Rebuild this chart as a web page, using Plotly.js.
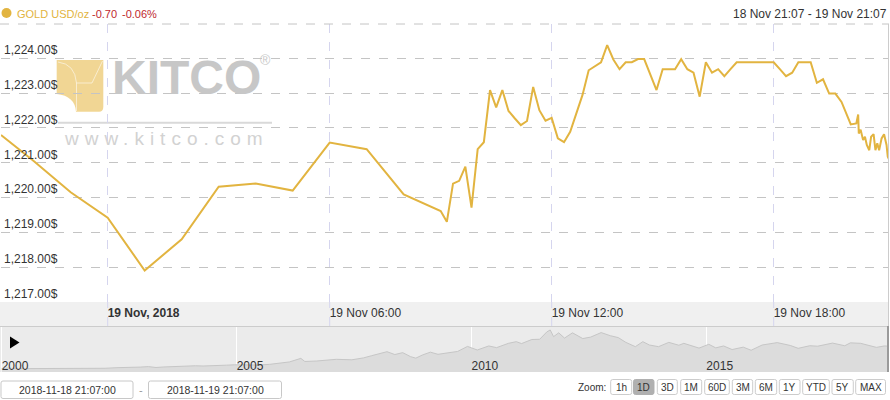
<!DOCTYPE html>
<html>
<head>
<meta charset="utf-8">
<script src="https://cdn.plot.ly/plotly-3.0.1.min.js"></script>
<style>
  html, body { margin: 0; padding: 0; background: #fff; }
  #chart { width: 890px; height: 400px; }
</style>
</head>
<body>
<div id="chart"></div>
<script>
// ---------------- DATA ----------------
const goldTimes = [
  '2018-11-18 21:07', '2018-11-18 22:00', '2018-11-18 23:00',
  '2018-11-19 00:00', '2018-11-19 01:00', '2018-11-19 02:00', '2018-11-19 03:00',
  '2018-11-19 04:00', '2018-11-19 05:00', '2018-11-19 06:00', '2018-11-19 07:00',
  '2018-11-19 08:00', '2018-11-19 09:00', '2018-11-19 09:10', '2018-11-19 09:20',
  '2018-11-19 09:30', '2018-11-19 09:40', '2018-11-19 09:50', '2018-11-19 10:00',
  '2018-11-19 10:10', '2018-11-19 10:20', '2018-11-19 10:30', '2018-11-19 10:40',
  '2018-11-19 10:50', '2018-11-19 11:00', '2018-11-19 11:10', '2018-11-19 11:20',
  '2018-11-19 11:30', '2018-11-19 11:40', '2018-11-19 11:50', '2018-11-19 12:00',
  '2018-11-19 12:10', '2018-11-19 12:20', '2018-11-19 12:30', '2018-11-19 12:40',
  '2018-11-19 12:50', '2018-11-19 13:00', '2018-11-19 13:10', '2018-11-19 13:20',
  '2018-11-19 13:30', '2018-11-19 13:40', '2018-11-19 13:50', '2018-11-19 14:00',
  '2018-11-19 14:10', '2018-11-19 14:20', '2018-11-19 14:30', '2018-11-19 14:40',
  '2018-11-19 14:50', '2018-11-19 15:00', '2018-11-19 15:10', '2018-11-19 15:20',
  '2018-11-19 15:30', '2018-11-19 15:40', '2018-11-19 15:50', '2018-11-19 16:00',
  '2018-11-19 16:10', '2018-11-19 16:20', '2018-11-19 16:30', '2018-11-19 16:40',
  '2018-11-19 16:50', '2018-11-19 17:00', '2018-11-19 17:30', '2018-11-19 18:00',
  '2018-11-19 18:10', '2018-11-19 18:20', '2018-11-19 18:30', '2018-11-19 18:40',
  '2018-11-19 18:50', '2018-11-19 19:00', '2018-11-19 19:10', '2018-11-19 19:20',
  '2018-11-19 19:30', '2018-11-19 19:40', '2018-11-19 19:50', '2018-11-19 20:00',
  '2018-11-19 20:05', '2018-11-19 20:14', '2018-11-19 20:17', '2018-11-19 20:18',
  '2018-11-19 20:21', '2018-11-19 20:25', '2018-11-19 20:28', '2018-11-19 20:31',
  '2018-11-19 20:35', '2018-11-19 20:38', '2018-11-19 20:42', '2018-11-19 20:45',
  '2018-11-19 20:48', '2018-11-19 20:51', '2018-11-19 20:55', '2018-11-19 20:59',
  '2018-11-19 21:03', '2018-11-19 21:05', '2018-11-19 21:07'
];
const goldPrices = [
  1221.80, 1221.05, 1220.15,
  1219.42, 1217.90, 1218.80, 1220.31,
  1220.40, 1220.20, 1221.58, 1221.39,
  1220.09, 1219.61, 1219.30, 1220.40,
  1220.48, 1220.89, 1219.71, 1221.39,
  1221.59, 1223.09, 1222.59, 1223.09,
  1222.49, 1222.28, 1222.08, 1222.20,
  1223.18, 1222.51, 1222.21, 1222.29,
  1221.70, 1221.59, 1221.89, 1222.42,
  1222.95, 1223.66, 1223.78, 1223.89,
  1224.38, 1223.97, 1223.69, 1223.89,
  1223.89, 1223.98, 1223.98, 1223.55,
  1223.09, 1223.69, 1223.69, 1223.69,
  1223.98, 1223.69, 1223.59, 1222.90,
  1223.89, 1223.59, 1223.69, 1223.49,
  1223.69, 1223.89, 1223.89, 1223.89,
  1223.69, 1223.49, 1223.59, 1223.89,
  1223.89, 1223.89, 1223.30, 1223.40,
  1222.99, 1222.99, 1222.75, 1222.32,
  1222.10, 1222.13, 1222.39, 1221.84,
  1221.95, 1221.65, 1221.75, 1221.51,
  1221.36, 1221.75, 1221.82, 1221.36,
  1221.56, 1221.36, 1221.70, 1221.82,
  1221.51, 1221.17, 1221.10
];

// navigator: long-term history (approximate)
const navDates = [
  '2000-01-01','2000-02-15','2000-04-15','2000-07-15','2000-10-15','2001-01-15','2001-04-15',
  '2001-06-15','2001-09-20','2001-12-15','2002-03-15','2002-06-15','2002-09-15','2002-12-15',
  '2003-02-15','2003-04-15','2003-06-15','2003-09-15','2003-12-15','2004-02-15','2004-04-15',
  '2004-07-15','2004-10-15','2004-12-15','2005-03-15','2005-06-15','2005-09-15','2005-12-15',
  '2006-02-15','2006-05-15','2006-06-15','2006-09-15','2006-12-15','2007-02-15','2007-06-15',
  '2007-09-15','2007-11-15','2008-01-15','2008-03-15','2008-05-15','2008-07-15','2008-09-15',
  '2008-10-25','2008-12-15','2009-02-15','2009-04-15','2009-06-15','2009-09-15','2009-12-01',
  '2010-02-15','2010-05-15','2010-07-15','2010-10-15','2010-12-15','2011-01-25','2011-04-15',
  '2011-06-15','2011-08-10','2011-09-05','2011-10-01','2011-11-10','2011-12-25','2012-02-25',
  '2012-05-15','2012-07-15','2012-10-05','2012-12-15','2013-02-15','2013-04-15','2013-06-28',
  '2013-08-25','2013-10-15','2013-12-25','2014-03-15','2014-06-01','2014-07-10','2014-11-05',
  '2015-01-20','2015-03-15','2015-05-15','2015-07-20','2015-10-15','2015-12-15','2016-03-10',
  '2016-07-05','2016-10-15','2016-12-15','2017-03-15','2017-05-15','2017-09-08','2017-12-12',
  '2018-01-25','2018-04-15','2018-06-15','2018-08-15','2018-10-15','2018-11-19'
];
const navPrices = [
  288, 305, 280, 282, 270, 265, 258,
  270, 290, 276, 295, 320, 318, 345,
  365, 328, 350, 380, 410, 400, 390,
  395, 425, 440, 430, 430, 460, 510,
  560, 710, 580, 600, 630, 670, 650,
  730, 820, 900, 990, 870, 950, 780,
  720, 850, 970, 880, 940, 1000, 1210,
  1060, 1230, 1160, 1340, 1410, 1330, 1500,
  1510, 1820, 1900, 1620, 1780, 1560, 1780,
  1540, 1600, 1790, 1660, 1580, 1380, 1200,
  1410, 1270, 1200, 1380, 1260, 1340, 1140,
  1300, 1150, 1230, 1080, 1180, 1050, 1270,
  1370, 1250, 1130, 1240, 1220, 1350, 1240,
  1360, 1340, 1250, 1170, 1230, 1222
];

const yTicks = [1217, 1218, 1219, 1220, 1221, 1222, 1223, 1224];
const yTickText = yTicks.map(v => v.toLocaleString('en-US', { minimumFractionDigits: 2, maximumFractionDigits: 2 }) + '$');
const xTickVals = ['2018-11-19 00:00', '2018-11-19 06:00', '2018-11-19 12:00', '2018-11-19 18:00'];
const xTickText = ['<b>19 Nov, 2018</b>', '19 Nov 06:00', '19 Nov 12:00', '19 Nov 18:00'];
const navTickVals = ['2000-01-01', '2005-01-01', '2010-01-01', '2015-01-01'];
const navTickText = ['2000', '2005', '2010', '2015'];
const zoomLabels = ['1h', '1D', '3D', '1M', '60D', '3M', '6M', '1Y', 'YTD', '5Y', 'MAX'];
const rangeFrom = '2018-11-18 21:07:00';
const rangeTo = '2018-11-19 21:07:00';

// ---------------- LAYOUT HELPERS ----------------
const W = 890, H = 400;
const X = px => px / W;
const Y = py => 1 - py / H;
const FONT = 'Liberation Sans, Arial, Helvetica, sans-serif';
const GOLD = '#e2b440';

function pathPx(points, close) {
  return points.map((p, i) => (i === 0 ? 'M' : 'L') + X(p[0]).toFixed(5) + ',' + Y(p[1]).toFixed(5)).join(' ') + (close ? ' Z' : '');
}
function roundRect(x0, y0, x1, y1, r) {
  const f = (x, y) => X(x).toFixed(5) + ',' + Y(y).toFixed(5);
  return 'M' + f(x0 + r, y0) + ' L' + f(x1 - r, y0) + ' Q' + f(x1, y0) + ' ' + f(x1, y0 + r) +
    ' L' + f(x1, y1 - r) + ' Q' + f(x1, y1) + ' ' + f(x1 - r, y1) +
    ' L' + f(x0 + r, y1) + ' Q' + f(x0, y1) + ' ' + f(x0, y1 - r) +
    ' L' + f(x0, y0 + r) + ' Q' + f(x0, y0) + ' ' + f(x0 + r, y0) + ' Z';
}
function line(x0, y0, x1, y1, color, width, dash) {
  return { type: 'line', xref: 'paper', yref: 'paper', x0: X(x0), y0: Y(y0), x1: X(x1), y1: Y(y1),
    line: { color: color, width: width || 1, dash: dash || 'solid' } };
}
function ann(text, px, py, opts) {
  return Object.assign({ text: text, xref: 'paper', yref: 'paper', x: X(px), y: Y(py),
    showarrow: false, xanchor: 'left', yanchor: 'middle',
    font: { family: FONT, size: 12, color: '#333' } }, opts || {});
}

// ---------------- TRACES ----------------
const traces = [
  { type: 'scatter', mode: 'lines', x: goldTimes, y: goldPrices, xaxis: 'x', yaxis: 'y',
    line: { color: GOLD, width: 2 }, hoverinfo: 'skip' },
  { type: 'scatter', mode: 'lines', x: navDates, y: navPrices, xaxis: 'x2', yaxis: 'y2',
    fill: 'tozeroy', fillcolor: '#dcdcdc', line: { color: '#c6c6c6', width: 1 }, hoverinfo: 'skip' }
];

// ---------------- SHAPES ----------------
const shapes = [];
shapes.push({ type: 'rect', xref: 'paper', yref: 'paper', x0: 0, x1: X(889), y0: Y(326), y1: Y(302),
  fillcolor: '#f0f0f0', line: { width: 0 }, layer: 'below' });
shapes.push({ type: 'rect', xref: 'paper', yref: 'paper', x0: 0, x1: X(889), y0: Y(372), y1: Y(326),
  fillcolor: '#ebebeb', line: { width: 0 }, layer: 'below' });
shapes.push(line(0, 24, 889, 24, '#c4c4c4', 1, 'dash'));
shapes.push(line(0, 326.5, 889, 326.5, '#cccccc', 1));
shapes.push(line(888.5, 24, 888.5, 326, '#cccccc', 1));
xTickVals.forEach(v => shapes.push({ type: 'line', xref: 'x', yref: 'paper', x0: v, x1: v, y0: Y(326), y1: Y(302),
  line: { color: '#d5d5ee', width: 1, dash: 'dash' } }));
shapes.push(line(888, 326, 888, 372, '#9a9a9a', 2));
shapes.push({ type: 'path', xref: 'paper', yref: 'paper', path: pathPx([[10, 336.5], [19.5, 342.5], [10, 348.5]], true),
  fillcolor: '#000', line: { width: 0 } });
shapes.push({ type: 'circle', xref: 'paper', yref: 'paper', x0: X(1.5), x1: X(11.5), y0: Y(18), y1: Y(8),
  fillcolor: GOLD, line: { width: 0 } });

// watermark logo icon
(function () {
  const f = (x, y) => X(x).toFixed(5) + ',' + Y(y).toFixed(5);
  const outer = 'M' + f(56.7, 60) + ' L' + f(103.3, 60) + ' L' + f(103.3, 107) + ' Q' + f(103.3, 111.7) + ' ' + f(99, 111.7) +
    ' L' + f(76, 111.7) + ' Q' + f(75, 96) + ' ' + f(56.7, 94) + ' L' + f(56.7, 60) + ' Z';
  shapes.push({ type: 'path', xref: 'paper', yref: 'paper', path: outer, fillcolor: 'rgba(236,200,112,0.75)',
    line: { width: 0 }, layer: 'below' });
  const inner = 'M' + f(58, 62) + ' Q' + f(75, 64) + ' ' + f(76.5, 83) + ' L' + f(76.5, 111) +
    ' M' + f(76.5, 83) + ' L' + f(92, 83) + ' L' + f(102.5, 61);
  shapes.push({ type: 'path', xref: 'paper', yref: 'paper', path: inner,
    line: { color: 'rgba(255,255,255,0.55)', width: 1 }, layer: 'below' });
  shapes.push(Object.assign(line(58, 122.7, 272, 122.7, '#d9d9d9', 2), { layer: 'below' }));
})();

shapes.push({ type: 'path', xref: 'paper', yref: 'paper', path: roundRect(1, 381, 133, 398.5, 2),
  fillcolor: '#fff', line: { color: '#c8c8c8', width: 1 } });
shapes.push({ type: 'path', xref: 'paper', yref: 'paper', path: roundRect(148.5, 381, 281.5, 398.5, 2),
  fillcolor: '#fff', line: { color: '#c8c8c8', width: 1 } });

const btnPos = [[610.7, 631.7], [633.5, 654], [657.3, 677.3], [680.7, 701.7], [704.7, 729.3], [732.3, 752.7],
  [755.3, 776.7], [779.3, 800], [802.7, 829.3], [832, 853.3], [855.7, 885.5]];
const annotations = [];
zoomLabels.forEach((lab, i) => {
  const p = btnPos[i];
  const active = lab === '1D';
  shapes.push({ type: 'path', xref: 'paper', yref: 'paper', path: roundRect(p[0], 379.5, p[1], 394.5, 2),
    fillcolor: active ? '#b0b0b0' : '#ffffff', line: { color: active ? '#b0b0b0' : '#cccccc', width: 1 } });
  annotations.push(ann(lab, (p[0] + p[1]) / 2, 387, { xanchor: 'center',
    font: { family: FONT, size: 10, color: '#333' } }));
});
annotations.push(ann('Zoom:', 607.5, 387, { xanchor: 'right', font: { family: FONT, size: 10, color: '#333' } }));

annotations.push(ann(rangeFrom, 67, 390, { xanchor: 'center', font: { family: FONT, size: 10.5, color: '#333' } }));
annotations.push(ann(rangeTo, 215, 390, { xanchor: 'center', font: { family: FONT, size: 10.5, color: '#333' } }));
annotations.push(ann('-', 141, 390, { xanchor: 'center', font: { family: FONT, size: 11, color: '#999' } }));

annotations.push(ann('GOLD USD/oz', 14.5, 14, { font: { family: FONT, size: 11, color: GOLD } }));
annotations.push(ann('-0.70', 89.5, 14, { font: { family: FONT, size: 11, color: '#c0282d' } }));
annotations.push(ann('-0.06%', 120, 14, { font: { family: FONT, size: 11, color: '#c0282d' } }));
annotations.push(ann('18 Nov 21:07 - 19 Nov 21:07', 888.5, 14, { xanchor: 'right', font: { family: FONT, size: 12, color: '#333' } }));

annotations.push(ann('KITCO', 186.7, 77, { xanchor: 'center', font: { family: FONT, size: 48, color: '#c7c7c7', weight: 700 } }));
annotations.push(ann('®', 265, 60, { xanchor: 'center', font: { family: FONT, size: 14, color: '#c9c9c9' } }));
annotations.push(ann('www.kitco.com', 62, 139, { align: 'left', font: { family: FONT, size: 19, color: '#d2d2d2' } }));

// ---------------- LAYOUT ----------------
const layout = {
  width: W, height: H,
  margin: { l: 0, r: 0, t: 0, b: 0, pad: 0 },
  paper_bgcolor: '#ffffff', plot_bgcolor: 'rgba(0,0,0,0)',
  showlegend: false,
  font: { family: FONT, size: 12, color: '#333' },
  xaxis: {
    type: 'date', domain: [X(1), X(889)], range: [rangeFrom, rangeTo], anchor: 'y',
    tickvals: xTickVals, ticktext: xTickText, ticks: '', ticklabelposition: 'outside right',
    ticklabelstandoff: 2,
    tickfont: { family: FONT, size: 12, color: '#333' },
    showgrid: true, gridcolor: '#d5d5ee', griddash: 'dash', gridwidth: 1,
    zeroline: false, showline: false, fixedrange: true, automargin: false
  },
  yaxis: {
    domain: [Y(302), Y(24)], range: [1216.995, 1224.99], anchor: 'x',
    tickvals: yTicks, ticktext: yTickText, ticks: '', ticklabelposition: 'inside top',
    tickfont: { family: FONT, size: 12, color: '#333' },
    showgrid: true, gridcolor: '#c4c4c4', griddash: 'dash', gridwidth: 1,
    zeroline: false, showline: false, fixedrange: true, automargin: false
  },
  xaxis2: {
    type: 'date', domain: [0, X(889)], range: ['1999-12-19', '2018-11-21'], anchor: 'y2',
    tickvals: navTickVals, ticktext: navTickText, ticks: '', ticklabelposition: 'inside right',
    ticklabelstandoff: -6,
    tickfont: { family: FONT, size: 12, color: '#333' },
    showgrid: true, gridcolor: '#ffffff', gridwidth: 1,
    zeroline: false, showline: false, fixedrange: true, automargin: false
  },
  yaxis2: {
    domain: [Y(372), Y(326)], range: [139, 2066], anchor: 'x2',
    showgrid: false, showticklabels: false, ticks: '', zeroline: false, showline: false, fixedrange: true
  },
  shapes: shapes,
  annotations: annotations
};

Plotly.newPlot('chart', traces, layout, { displayModeBar: false, staticPlot: true }).then(function () {
  document.querySelectorAll('.annotation-text').forEach(function (t) {
    if (t.textContent === 'www.kitco.com') t.style.letterSpacing = '6px';
  });
});
</script>
</body>
</html>
